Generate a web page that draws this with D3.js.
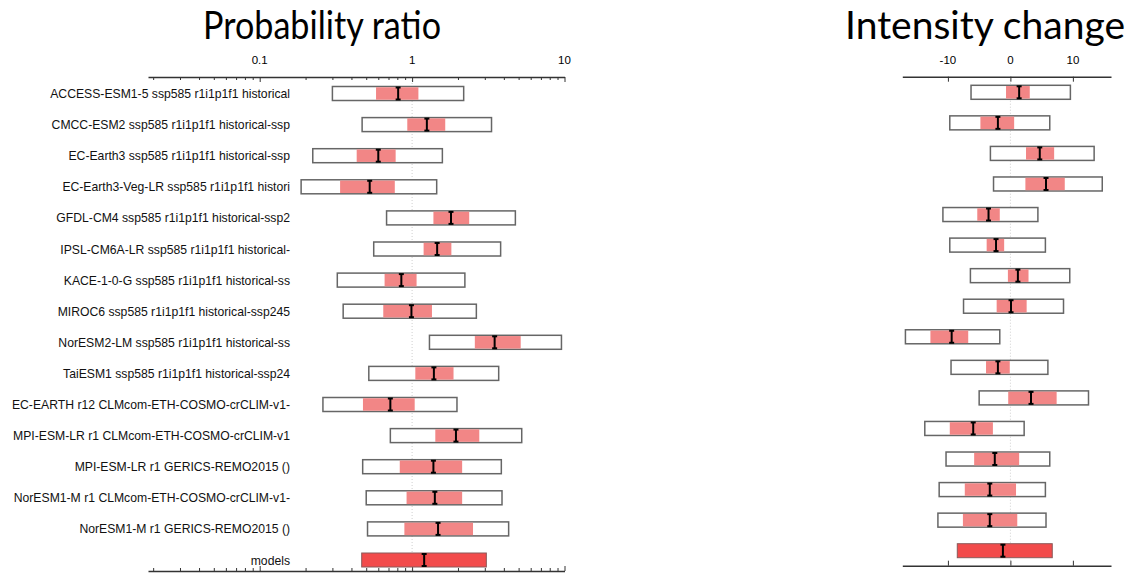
<!DOCTYPE html>
<meta charset="utf-8">
<style>
  body { margin: 0; background: #fff; }
  .lbl { font-family: "Liberation Sans", Arial, sans-serif; font-size: 12.2px; fill: #111; }
  .title { font-family: Lato, "Open Sans", sans-serif; font-size: 38px; fill: #000; }
  .axis text { font-family: "Liberation Sans", Arial, sans-serif; font-size: 11.5px; fill: #111; }
  .axis path, .axis line { stroke: #333; }
</style>
<body>
<svg width="1138" height="574"></svg>
<script src="https://cdn.jsdelivr.net/npm/d3@7"></script>
<script>

var labels = [
    "ACCESS-ESM1-5 ssp585 r1i1p1f1 historical",
    "CMCC-ESM2 ssp585 r1i1p1f1 historical-ssp",
    "EC-Earth3 ssp585 r1i1p1f1 historical-ssp",
    "EC-Earth3-Veg-LR ssp585 r1i1p1f1 histori",
    "GFDL-CM4 ssp585 r1i1p1f1 historical-ssp2",
    "IPSL-CM6A-LR ssp585 r1i1p1f1 historical-",
    "KACE-1-0-G ssp585 r1i1p1f1 historical-ss",
    "MIROC6 ssp585 r1i1p1f1 historical-ssp245",
    "NorESM2-LM ssp585 r1i1p1f1 historical-ss",
    "TaiESM1 ssp585 r1i1p1f1 historical-ssp24",
    "EC-EARTH r12 CLMcom-ETH-COSMO-crCLIM-v1-",
    "MPI-ESM-LR r1 CLMcom-ETH-COSMO-crCLIM-v1",
    "MPI-ESM-LR r1 GERICS-REMO2015 ()",
    "NorESM1-M r1 CLMcom-ETH-COSMO-crCLIM-v1-",
    "NorESM1-M r1 GERICS-REMO2015 ()",
    "models"
];

// probability ratio: outer range, inner (pink) range, best estimate
var prLow   = [0.30, 0.47, 0.223, 0.187, 0.68, 0.56, 0.323, 0.353, 1.30, 0.52, 0.26, 0.72, 0.474, 0.50, 0.51, null];
var prHigh  = [2.18, 3.32, 1.58, 1.45, 4.76, 3.81, 2.22, 2.64, 9.55, 3.70, 1.97, 5.24, 3.85, 3.89, 4.30, null];
var prInLo  = [0.58, 0.93, 0.433, 0.337, 1.38, 1.19, 0.66, 0.647, 2.58, 1.05, 0.476, 1.42, 0.83, 0.92, 0.89, 0.467];
var prInHi  = [1.10, 1.65, 0.78, 0.77, 2.37, 1.81, 1.07, 1.35, 5.16, 1.87, 1.04, 2.76, 2.13, 2.13, 2.51, 3.07];
var prBest  = [0.81, 1.25, 0.60, 0.527, 1.80, 1.46, 0.85, 0.99, 3.48, 1.39, 0.72, 1.94, 1.38, 1.41, 1.48, 1.20];
var prMajor = [0.1, 1, 10];
var prMinor = [0.02, 0.03, 0.04, 0.05, 0.06, 0.07, 0.08, 0.09, 0.2, 0.3, 0.4, 0.5, 0.6, 0.7, 0.8, 0.9,
               2, 3, 4, 5, 6, 7, 8, 9];

// intensity change
var icLow   = [-6.3, -9.7, -3.2, -2.7, -10.8, -9.7, -6.4, -7.5, -16.8, -9.5, -5.0, -13.7, -10.3, -11.4, -11.6, null];
var icHigh  = [9.6, 6.3, 13.4, 14.7, 4.4, 5.6, 9.5, 8.5, -1.7, 6.0, 12.5, 2.2, 6.3, 5.6, 5.7, null];
var icInLo  = [-0.7, -4.8, 2.5, 2.4, -5.3, -3.8, -0.4, -2.2, -12.8, -3.9, -0.35, -9.7, -5.8, -7.3, -7.6, -8.5];
var icInHi  = [3.1, 0.6, 7.0, 8.7, -1.7, -1.0, 2.9, 2.6, -6.75, -0.1, 7.4, -2.8, 1.4, 0.9, 1.1, 6.7];
var icBest  = [1.4, -2.0, 4.7, 5.7, -3.5, -2.3, 1.2, 0.1, -9.4, -2.0, 3.3, -5.95, -2.5, -3.3, -3.3, -1.2];
var icMajor = [-10, 0, 10];

var svg = d3.select("svg");

function panel(o) {
    var g = svg.append("g");
    var x = o.x, y = o.y;
    var top = o.top, bottom = o.bottom;

    // dotted reference line
    g.append("line")
        .attr("x1", x(o.ref)).attr("x2", x(o.ref))
        .attr("y1", top).attr("y2", bottom)
        .attr("stroke", "#cfcfcf")
        .attr("stroke-dasharray", "1,2");

    // top axis
    var ta = g.append("g").attr("class", "axis").attr("transform", "translate(0," + top + ")");
    ta.call(d3.axisBottom(x).tickValues(o.major).tickSize(5).tickSizeOuter(0).tickFormat(""));
    ta.select(".domain").attr("stroke-width", 1.5);
    if (o.minor) {
        var tm = g.append("g").attr("class", "axis").attr("transform", "translate(0," + top + ")");
        tm.call(d3.axisBottom(x).tickValues(o.minor).tickSize(3).tickSizeOuter(0).tickFormat(""));
        tm.select(".domain").remove();
    }
    g.selectAll(".tlab").data(o.major).enter().append("text")
        .attr("x", function (d) { return x(d); })
        .attr("y", top - 13)
        .attr("text-anchor", "middle")
        .style("font-family", "'Liberation Sans', Arial, sans-serif")
        .style("font-size", "11.5px")
        .text(o.fmt);

    // bottom axis
    var ba = g.append("g").attr("class", "axis").attr("transform", "translate(0," + bottom + ")");
    ba.call(d3.axisTop(x).tickValues(o.major).tickSize(5).tickSizeOuter(0).tickFormat(""));
    ba.select(".domain").attr("stroke-width", 1.5);
    if (o.minor) {
        var bm = g.append("g").attr("class", "axis").attr("transform", "translate(0," + bottom + ")");
        bm.call(d3.axisTop(x).tickValues(o.minor).tickSize(3).tickSizeOuter(0).tickFormat(""));
        bm.select(".domain").remove();
    }

    var h = 14;
    var rows = g.selectAll(".row").data(labels).enter().append("g")
        .attr("transform", function (d) { return "translate(0," + y(d) + ")"; });

    // outer boxes
    rows.filter(function (d, i) { return o.lo[i] != null; })
        .append("rect")
        .attr("x", function (d) { return x(o.lo[labels.indexOf(d)]); })
        .attr("width", function (d) { var i = labels.indexOf(d); return x(o.hi[i]) - x(o.lo[i]); })
        .attr("y", -h / 2).attr("height", h)
        .attr("fill", "#fff").attr("stroke", "#666").attr("stroke-width", 1.5);

    // inner ranges
    rows.append("rect")
        .attr("x", function (d) { return x(o.inLo[labels.indexOf(d)]); })
        .attr("width", function (d) { var i = labels.indexOf(d); return x(o.inHi[i]) - x(o.inLo[i]); })
        .attr("y", function (d) { return o.lo[labels.indexOf(d)] == null ? -h / 2 : -h / 2 + 0.75; })
        .attr("height", function (d) { return o.lo[labels.indexOf(d)] == null ? h : h - 1.5; })
        .attr("fill", function (d) { return o.lo[labels.indexOf(d)] == null ? "#f24b4b" : "#f28686"; })
        .attr("stroke", function (d) { return o.lo[labels.indexOf(d)] == null ? "#8a5a5a" : "none"; })
        .attr("stroke-width", 1);

    // best estimate markers
    var m = rows.append("g")
        .attr("transform", function (d) { return "translate(" + x(o.best[labels.indexOf(d)]) + ",0)"; })
        .attr("stroke", "#000").attr("stroke-width", 2);
    m.append("line").attr("y1", -h / 2 + 1).attr("y2", h / 2 - 1);
    m.append("line").attr("x1", -2.5).attr("x2", 2.5).attr("y1", -h / 2 + 1).attr("y2", -h / 2 + 1);
    m.append("line").attr("x1", -2.5).attr("x2", 2.5).attr("y1", h / 2 - 1).attr("y2", h / 2 - 1);

    return rows;
}

var xPr = d3.scaleLog().domain([0.0185, 10]).range([148, 564.5]);
var yPr = d3.scalePoint().domain(labels).range([93.5, 560]);
var xIc = d3.scaleLinear().domain([-17.3, 16.1]).range([902.3, 1111]);
var yIc = d3.scalePoint().domain(labels).range([92.3, 550.7]);

panel({
    x: xPr, y: yPr, top: 77, bottom: 571, ref: 1,
    major: prMajor, minor: prMinor, fmt: function (d) { return String(d); },
    lo: prLow, hi: prHigh, inLo: prInLo, inHi: prInHi, best: prBest
});
panel({
    x: xIc, y: yIc, top: 76.7, bottom: 565.7, ref: 0,
    major: icMajor, minor: null, fmt: function (d) { return String(d); },
    lo: icLow, hi: icHigh, inLo: icInLo, inHi: icInHi, best: icBest
});

// row labels
svg.selectAll(".lbl").data(labels).enter().append("text")
    .attr("class", "lbl")
    .attr("x", 290)
    .attr("y", function (d) { return yPr(d) + 4.5; })
    .attr("text-anchor", "end")
    .text(function (d) { return d; });

// titles (squeezed to the reference widths)
svg.append("text").attr("class", "title").attr("x", 203).attr("y", 38.5)
    .attr("textLength", 238).attr("lengthAdjust", "spacingAndGlyphs")
    .text("Probability ratio");
svg.append("text").attr("class", "title").attr("x", 845).attr("y", 38.5)
    .attr("textLength", 280).attr("lengthAdjust", "spacingAndGlyphs")
    .text("Intensity change");

</script>
</body>
